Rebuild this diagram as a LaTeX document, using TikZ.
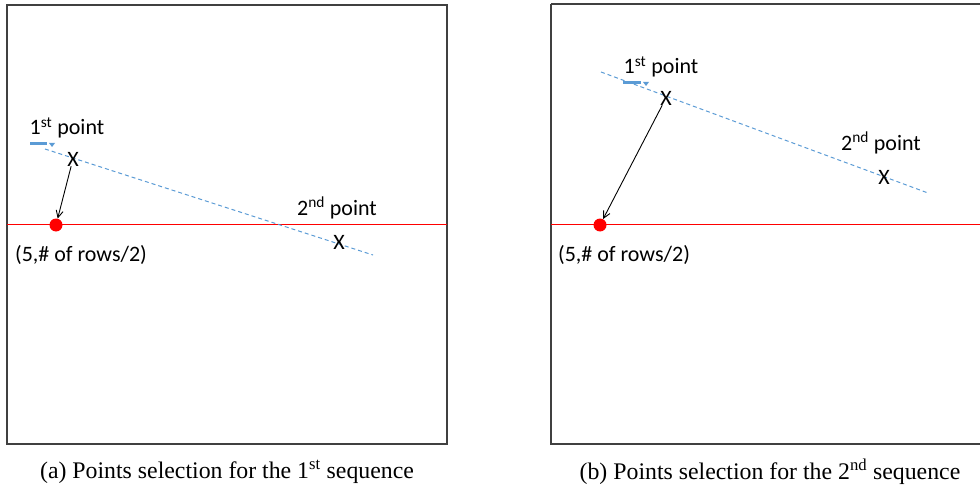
\documentclass[tikz,border=0pt]{standalone}
\usepackage{fontspec}
\setmainfont{Liberation Serif}
\newfontfamily\calibri{Carlito}
\usetikzlibrary{arrows.meta}
\definecolor{dashblue}{RGB}{91,155,213}
\definecolor{boxgray}{RGB}{64,64,64}
\begin{document}
\begin{tikzpicture}[x=1pt, y=-1pt, >={Straight Barb[length=7pt,width=7pt]},
  lbl/.style={font=\calibri\fontsize{22}{26}\selectfont, inner sep=0pt},
  redpt/.style={circle, fill=red, minimum size=13pt, inner sep=0pt},
  guide/.style={dashblue, line width=1pt, dash pattern=on 4pt off 3pt},
  frame/.style={boxgray, line width=1.5pt},
  capt/.style={font=\fontsize{23.8}{28}\selectfont, inner sep=0pt}]

\useasboundingbox (0,0) rectangle (980,492);

% (a) first sequence
\draw[frame] (7,5) rectangle (447,444);
\draw[red, line width=1pt] (7,224) -- (447,224);
\coordinate (ga1) at (45,149);
\coordinate (ga2) at (373,255);
\draw[guide] (ga1) -- (ga2);
\draw[dashblue, line width=3pt] (30,144) -- (47,144);
\fill[dashblue] (49,143) -- (55,143) -- (52,147) -- cycle;
\node[redpt] (ca) at (56,225) {};
\node[lbl] (xa1) at (73,159) {X};
\node[lbl] (xa2) at (339,242) {X};
\node[lbl] (pa1) at (67,128) {1\textsuperscript{st} point};
\node[lbl] (pa2) at (337,208) {2\textsuperscript{nd} point};
\node[lbl] (ra) at (81,255) {(5,\# of rows/2)};
\draw[->, line width=0.9pt] (xa1) -- (ca);
\node[capt] (capa) at (227,472) {(a) Points selection for the 1\textsuperscript{st} sequence};

% (b) second sequence
\draw[frame] (551,4) -- (985,4);
\draw[frame] (551,4) -- (551,444) -- (985,444);
\draw[red, line width=1pt] (551,224) -- (985,224);
\coordinate (gb1) at (601,72);
\coordinate (gb2) at (928,193);
\draw[guide] (gb1) -- (gb2);
\draw[dashblue, line width=3pt] (623,83) -- (641,83);
\fill[dashblue] (643,82) -- (649,82) -- (646,86) -- cycle;
\node[redpt] (cb) at (600,225) {};
\node[lbl] (xb1) at (666,98) {X};
\node[lbl] (xb2) at (884,177) {X};
\node[lbl] (pb1) at (661,67) {1\textsuperscript{st} point};
\node[lbl] (pb2) at (881,143) {2\textsuperscript{nd} point};
\node[lbl] (rb) at (624,255) {(5,\# of rows/2)};
\draw[->, line width=0.9pt] (xb1) -- (cb);
\node[capt] (capb) at (770,472) {(b) Points selection for the 2\textsuperscript{nd} sequence};

\end{tikzpicture}
\end{document}
